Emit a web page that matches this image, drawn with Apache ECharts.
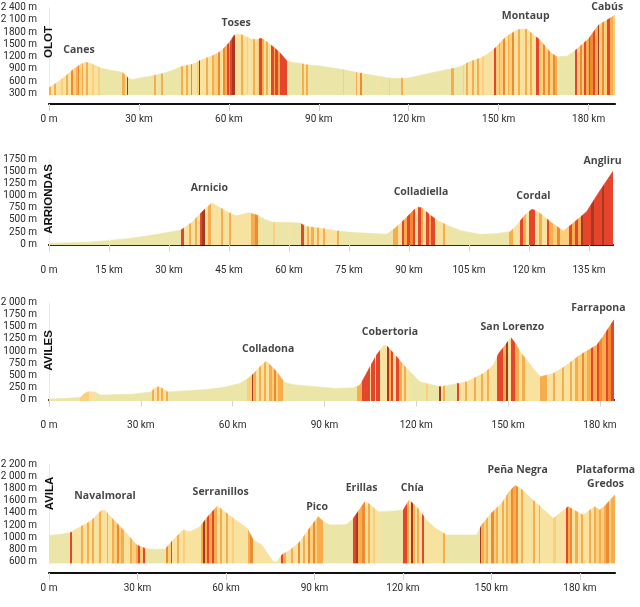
<!DOCTYPE html>
<html><head><meta charset="utf-8">
<script src="https://cdn.jsdelivr.net/npm/echarts@6.0.0/dist/echarts.min.js"></script>
<style>html,body{margin:0;padding:0;background:#fff}#c{width:640px;height:607px}</style>
</head><body><div id="c"></div>
<script>
// ---------- DATA ----------
const stageNames = ['OLOT', 'ARRIONDAS', 'AVILES', 'AVILA'];
const stageLengths = [188.8, 141, 184.6, 191.9];
const stageYMin = [260, -20, -30, 570];
const stageYMax = [2400, 1750, 2000, 2200];

const olotYTicks = [300, 600, 900, 1200, 1500, 1800, 2100, 2400];
const arriondasYTicks = [0, 250, 500, 750, 1000, 1250, 1500, 1750];
const avilesYTicks = [0, 250, 500, 750, 1000, 1250, 1500, 1750, 2000];
const avilaYTicks = [600, 800, 1000, 1200, 1400, 1600, 1800, 2000, 2200];
const olotXTicks = [0, 30, 60, 90, 120, 150, 180];
const arriondasXTicks = [0, 15, 30, 45, 60, 75, 90, 105, 120, 135];
const avilesXTicks = [0, 30, 60, 90, 120, 150, 180];
const avilaXTicks = [0, 30, 60, 90, 120, 150, 180];

// elevation profiles [km, m]
const olotProfile = [[0,440],[2,530],[4.6,670],[8,880],[10.5,1010],[12.3,1060],[14,1030],[17.5,915],[21,860],[23.7,830],[24.9,790],[26.6,665],[28,640],[31,690],[34.2,725],[38,790],[41,860],[44,950],[47,1000],[48.5,1030],[50.2,1100],[53,1180],[55.1,1240],[57,1320],[58.8,1440],[60.5,1580],[61.7,1720],[62.7,1750],[64.4,1735],[66,1680],[67.4,1630],[69.5,1620],[70.7,1650],[72,1600],[74.8,1443],[77,1300],[79.3,1100],[81,1060],[83.5,1040],[86,1000],[90.5,970],[98.3,880],[105,780],[110,720],[113.8,670],[119.4,668],[125,760],[130,840],[135,913],[138,980],[140.2,1075],[143.8,1160],[146,1250],[148.8,1404],[150.5,1550],[152.5,1690],[156,1850],[157.5,1875],[159.4,1870],[161.5,1740],[163.8,1608],[167.3,1296],[169.4,1198],[172.7,1210],[175,1320],[178.3,1527],[180,1640],[183.3,1975],[186,2090],[188.8,2220]];
const arriondasProfile = [[0,20],[5,30],[10,45],[15,80],[20,120],[23,156],[27,205],[31,265],[33,295],[34.5,380],[35.6,440],[37,560],[38.4,680],[40.7,850],[43,740],[45,650],[46.8,585],[48.5,620],[50,650],[52.3,590],[54,510],[55.9,455],[60,450],[62.7,435],[64.3,365],[68,328],[72,275],[76.3,240],[80,225],[84.4,205],[86.5,330],[89,520],[91.5,730],[92.3,760],[93.2,750],[95,620],[96.9,500],[99.4,396],[103,280],[107.8,205],[112,220],[115.3,260],[117,400],[119,600],[120.7,720],[121.8,690],[123.5,590],[125.3,464],[128.6,273],[131,431],[134.4,669],[137.3,1046],[141,1500]];
const avilesProfile = [[0,10],[5,20],[10.4,45],[11.5,120],[12.7,160],[15,155],[16,120],[17,90],[22,100],[27.3,110],[33.3,155],[34.5,230],[35.7,265],[37,230],[38.8,155],[45,180],[51.4,205],[57,250],[62.3,330],[64.6,420],[66.5,510],[69,680],[71,790],[72.5,700],[74.4,575],[77,350],[80,305],[84.1,280],[88.6,255],[93.8,228],[99.4,240],[101.6,296],[103.4,500],[105,690],[107,917],[109.4,1120],[110.5,1100],[113.1,917],[116,700],[118,571],[121.2,364],[124,320],[127.8,261],[131,300],[136.5,364],[142.1,540],[145.2,710],[146.9,950],[149,1120],[150.9,1280],[152.5,1150],[154,980],[156.1,814],[158.5,620],[160.5,470],[164.8,538],[168,660],[173.5,917],[177,1050],[179,1124],[181,1300],[184.6,1650]];
const avilaProfile = [[0,1030],[4,1050],[7.5,1080],[8.2,1110],[11.6,1200],[14,1260],[17.9,1450],[19,1440],[22,1280],[25.8,1093],[29.7,874],[32.5,820],[35,805],[39.3,805],[42,950],[45.5,1120],[47.8,1090],[51.2,1175],[54,1350],[57.1,1515],[62.5,1313],[67.2,1149],[69.3,956],[72.2,874],[76,600],[77.2,595],[78.9,710],[82,800],[85.1,928],[88,1130],[91.3,1340],[93,1260],[95.3,1203],[100.9,1210],[103.2,1313],[107.1,1586],[108.5,1550],[111.6,1421],[116,1430],[120.1,1449],[122.1,1614],[125,1480],[128,1285],[131,1150],[134.8,1039],[145,1039],[146.7,1203],[150,1400],[153.5,1559],[156,1750],[158,1850],[160,1800],[165.3,1559],[171,1313],[176,1503],[177.5,1460],[181.1,1367],[185,1503],[186.7,1449],[188.5,1520],[191.9,1700]];

// gradient stripes [fromKm, toKm, level 0..6]
const olotStripes = [[0,0.8,3],[0.8,1.6,1],[1.6,2.4,3],[2.4,4,1],[4,4.6,2],[4.6,5.6,1],[5.6,6.4,3],[6.4,7.4,1],[7.4,7.9,4],[7.9,9,2],[9,9.6,3],[9.6,10.1,4],[10.1,11,2],[11,11.5,3],[11.5,12.5,1],[12.5,13.1,3],[13.1,14.5,1],[14.5,15,2],[15,16.5,1],[16.5,17,2],[24.5,25.2,3],[25.2,26,1],[26,26.5,6],[35,35.6,3],[37.3,37.9,3],[44,44.6,3],[44.6,45.8,1],[45.8,46.3,3],[46.3,47.2,1],[47.2,47.8,4],[47.8,49.5,1],[49.5,50,2],[50,50.5,6],[50.5,52.5,1],[52.5,53.2,3],[53.2,54.5,1],[54.5,55.1,3],[55.1,56.3,2],[56.3,56.9,4],[56.9,58,1],[58,58.6,4],[58.6,59.3,3],[59.3,60,5],[60,60.5,3],[60.5,61.2,5],[61.2,62,6],[62,64,1],[64,64.6,3],[64.6,66,1],[66,66.5,2],[66.5,68,1],[68,68.6,3],[68.6,69.5,1],[69.5,70.2,2],[70.2,70.9,5],[70.9,71.6,3],[71.6,72.5,1],[72.5,73.2,3],[73.2,74,1],[74,75,5],[75,75.5,3],[75.5,76.5,5],[76.5,77,3],[77,79.5,5],[84.5,85,3],[85,85.8,1],[85.8,86.3,3],[98,98.5,2],[102.3,102.9,3],[103.8,104.4,4],[104.4,105,1],[109.4,110,1],[113.3,113.9,2],[117.5,118.1,3],[118.1,118.8,1],[134,135,3],[138,138.5,2],[139,139.6,3],[139.6,141,1],[141,141.6,3],[141.6,142.8,1],[142.8,143.4,3],[143.4,144.5,1],[144.5,145,2],[145,148.3,1],[148.3,149,5],[149,150,2],[150,150.6,3],[150.6,151.5,2],[151.5,152.2,4],[152.2,153,1],[153,153.6,3],[153.6,154.5,2],[154.5,155.2,4],[155.2,156.3,1],[156.3,157,3],[157,158.8,1],[158.8,159.5,3],[159.5,160.5,1],[160.5,161.2,3],[161.2,162.5,1],[162.5,163.3,5],[163.3,164.8,2],[164.8,165.5,4],[165.5,166.3,2],[166.3,167,4],[167,168,2],[168,168.8,4],[168.8,169.5,3],[172,172.6,1],[175.3,176,5],[176,177,2],[177,177.7,4],[177.7,178.5,2],[178.5,179.2,5],[179.2,180,3],[180,180.6,5],[180.6,181.5,4],[181.5,182.2,5],[182.2,183,3],[183,183.6,6],[183.6,184.5,2],[184.5,185.2,4],[185.2,186.2,2],[186.2,187,5],[187,188.2,3],[188.2,188.8,2]];
const arriondasStripes = [[33,33.7,5],[33.7,35,1],[35,35.6,3],[35.6,36.5,1],[36.5,37,3],[37,37.7,1],[37.7,38.3,5],[38.3,39,6],[39,39.8,1],[39.8,40.4,3],[40.4,43,1],[43,43.6,3],[43.6,45,1],[45,45.6,3],[45.6,50.5,1],[50.5,51.6,3],[51.6,52.3,4],[52.3,53,1],[56,56.5,2],[60,60.5,1],[63,63.7,5],[63.7,64.5,1],[64.5,65,3],[65,65.6,1],[65.6,66.2,3],[66.2,67,1],[67,67.5,3],[67.5,68.5,1],[68.5,69,3],[69,72,1],[72,72.5,3],[86,87.3,3],[87.3,88.2,1],[88.2,88.8,5],[88.8,89.5,3],[89.5,90.2,5],[90.2,91,4],[91,91.5,5],[91.5,92.3,1],[92.3,93,5],[93,93.6,3],[93.6,94.3,1],[94.3,95,5],[95,95.6,3],[95.6,96.5,5],[96.5,98.5,1],[98.5,99.1,3],[99.1,100,1],[115,116.1,3],[116.1,117.8,1],[117.8,118.5,5],[118.5,119.3,3],[119.3,120,1],[120,121.4,5],[121.4,122.6,1],[122.6,123.3,3],[123.3,124.4,1],[124.4,125.1,5],[125.1,126,3],[126,127,2],[127,127.8,4],[127.8,130,2],[130,130.8,5],[130.8,131.5,3],[131.5,132.3,5],[132.3,133,3],[133,133.6,6],[133.6,135.5,5],[135.5,136.3,6],[136.3,138.2,5],[138.2,138.8,6],[138.8,141,5]];
const avilesStripes = [[10.2,13,2],[13,15.5,1],[33.8,34.4,3],[34.4,35.2,1],[35.2,35.8,3],[35.8,36.6,1],[36.6,37.2,3],[37.2,38.3,1],[38.3,38.9,3],[64.6,66.2,2],[66.2,66.8,6],[66.8,67.6,3],[67.6,68.6,1],[68.6,69.3,3],[69.3,70.3,1],[70.3,71,3],[71,72,1],[72,72.7,3],[72.7,73.4,2],[73.4,74.1,4],[74.1,74.8,2],[74.8,76.5,3],[100.6,102.2,3],[102.2,104.8,5],[104.8,105.3,1],[105.3,106.4,5],[106.4,106.9,1],[106.9,108.2,5],[108.2,110.4,1],[110.4,111,6],[111,111.7,3],[111.7,112.5,5],[112.5,113.5,1],[113.5,114.3,5],[114.3,115.3,3],[115.3,116,1],[116,116.8,3],[116.8,118,1],[123.2,123.9,2],[127.5,128.1,6],[128.1,128.8,1],[128.8,129.5,3],[133.4,134,5],[134,136,1],[136,136.6,3],[136.6,139,1],[139,139.6,3],[139.6,141.3,1],[141.3,141.9,3],[141.9,143,1],[143,143.6,3],[143.6,146.3,1],[146.3,148.4,5],[148.4,149.3,3],[149.3,150,6],[150,151,1],[151,152.3,5],[152.3,153.5,3],[153.5,154.6,1],[154.6,155.4,3],[155.4,160.5,1],[160.5,162.7,3],[162.7,164.7,1],[164.7,165.4,3],[165.4,167.6,1],[167.6,168.3,3],[168.3,170.2,1],[170.2,170.9,3],[170.9,172,1],[172,172.7,3],[172.7,174,2],[174,174.7,4],[174.7,175.8,2],[175.8,177,3],[177,177.7,5],[177.7,179,3],[179,179.8,5],[179.8,180.6,4],[180.6,182,3],[182,182.6,5],[182.6,183.5,4],[183.5,184.6,5]];
const avilaStripes = [[7.2,7.8,5],[7.8,11,1],[11,11.6,3],[11.6,12.8,1],[12.8,13.4,3],[13.4,14.5,1],[14.5,15.1,3],[15.1,17,1],[17,17.6,3],[17.6,19.5,1],[19.5,20.1,3],[20.1,21.5,1],[21.5,22.1,3],[22.1,23.2,2],[23.2,23.8,4],[23.8,24.5,2],[24.5,25.3,3],[25.3,27.5,1],[27.5,28.1,3],[28.1,29.5,2],[29.5,30.1,3],[30.1,30.7,5],[30.7,31.8,2],[31.8,32.4,5],[32.4,33,2],[39.8,40.5,4],[40.5,41.2,2],[41.2,41.8,5],[41.8,43.5,1],[43.5,44.1,3],[44.1,45.5,1],[45.5,46,2],[46,51.5,1],[51.5,52.3,3],[52.3,53,6],[53,53.7,3],[53.7,54.4,5],[54.4,55.2,3],[55.2,55.9,5],[55.9,57,3],[57,58,1],[58,58.7,3],[58.7,60,1],[60,60.7,3],[60.7,62,1],[62,62.7,2],[62.7,67.5,1],[67.5,68.2,3],[68.2,69,4],[69,76.5,1],[78.5,79.5,5],[79.5,80.5,3],[80.5,82,1],[82,82.7,3],[82.7,84.3,1],[84.3,85,4],[85,86,1],[86,86.7,3],[86.7,87.8,1],[87.8,88.5,4],[88.5,89.5,2],[89.5,90.2,4],[90.2,91,2],[91,93,3],[103,104.2,5],[104.2,104.8,6],[104.8,106,3],[106,107,4],[107,108,1],[108,108.7,3],[108.7,110,1],[110,110.6,2],[110.6,111.8,1],[120,121.3,5],[121.3,122,3],[122,122.6,1],[122.6,123.3,6],[123.3,124,3],[124,124.6,1],[124.6,125.3,3],[125.3,126.5,1],[126.5,127.2,5],[127.2,133.5,1],[133.5,134.3,3],[146,146.6,6],[146.6,147.5,3],[147.5,148.3,2],[148.3,149,3],[149,150,1],[150,150.8,4],[150.8,151.5,2],[151.5,152.3,3],[152.3,153.5,1],[153.5,154.2,3],[154.2,155,1],[155,155.7,3],[155.7,156.5,2],[156.5,157.3,4],[157.3,158.2,3],[158.2,159,4],[159,160,1],[160,160.7,3],[160.7,164,1],[164,164.7,3],[164.7,166,1],[166,166.6,3],[166.6,171,1],[171,172,2],[172,175.2,1],[175.2,175.9,5],[175.9,176.6,3],[176.6,177.3,4],[177.3,178.5,1],[178.5,179.2,3],[179.2,180.5,1],[180.5,181.2,3],[181.2,183,1],[183,183.7,3],[183.7,184.7,1],[184.7,185.4,3],[185.4,186.5,2],[186.5,187.2,3],[187.2,188.2,2],[188.2,189,3],[189,190,4],[190,190.6,2],[190.6,191.9,3]];

// peak labels: name, km, label elevation (m)
const olotPeaks = [['Canes',10,1363],['Toses',62.4,2032],['Montaup',159,2197],['Cabús',186.2,2425]];
const arriondasPeaks = [['Arnicio',40.1,1149],['Colladiella',93,1079],['Cordal',121.1,997],['Angliru',138.4,1715]];
const avilesPeaks = [['Colladona',71.6,1049],['Cobertoria',111.4,1388],['San Lorenzo',151.4,1504],['Farrapona',179.5,1884]];
const avilaPeaks = [['Navalmoral',19,1679],['Serranillos',58.2,1740],['Pico',90.9,1503],['Erillas',106,1815],['Chía',123.2,1806],['Peña Negra',158.9,2106],['Plataforma\nGredos',188.7,1988]];

// ---------- STYLE / LAYOUT ----------
const LEVEL_COLORS = ['#ebe6a7', '#f7e39f', '#fbcf7c', '#f7ac4e', '#ef8932', '#e7452b', '#a63a1e'];
const layout = [
  {top: 7.7, height: 87.3, width: 566, barOffset: 9, titleX: 49, titleY: 42},
  {top: 159, height: 86.3, width: 564, barOffset: 10, titleX: 48.5, titleY: 199},
  {top: 302.7, height: 98.2, width: 565, barOffset: 10, titleX: 49, titleY: 350.5},
  {top: 464.3, height: 99.2, width: 566, barOffset: 9.5, titleX: 49.5, titleY: 493.5}
];
const profiles = [olotProfile, arriondasProfile, avilesProfile, avilaProfile];
const stripes = [olotStripes, arriondasStripes, avilesStripes, avilaStripes];
const peaks = [olotPeaks, arriondasPeaks, avilesPeaks, avilaPeaks];
const yTicks = [olotYTicks, arriondasYTicks, avilesYTicks, avilaYTicks];
const xTicks = [olotXTicks, arriondasXTicks, avilesXTicks, avilaXTicks];

function fmtM(v) {
  if (v >= 2000) return Math.floor(v / 1000) + ' ' + String(v % 1000).padStart(3, '0') + ' m';
  return v + ' m';
}
function fmtKm(v) { return v === 0 ? '0 m' : v + ' km'; }

const chart = echarts.init(document.getElementById('c'), null, {renderer: 'canvas'});
const grids = [], xAxes = [], yAxes = [], series = [], vms = [], graphics = [];
layout.forEach((L, i) => {
  grids.push({left: 49, top: L.top, width: L.width, height: L.height, containLabel: false, outerBoundsMode: 'none'});
  xAxes.push({
    type: 'value', gridIndex: i, min: 0, max: stageLengths[i], offset: L.barOffset,
    splitLine: {show: false},
    axisLine: {show: true, lineStyle: {color: '#111', width: 2.2}},
    axisTick: {show: true, length: 7, customValues: xTicks[i], lineStyle: {color: '#d4d4d4', width: 1}},
    axisLabel: {customValues: xTicks[i], formatter: fmtKm, margin: 10, fontFamily: 'Roboto', fontSize: 10, color: '#2a2a2a'}
  });
  yAxes.push({
    type: 'value', gridIndex: i, min: stageYMin[i], max: stageYMax[i],
    splitLine: {show: false},
    axisLine: {show: true, lineStyle: {color: '#ebebeb', width: 1}},
    axisTick: {show: false, customValues: yTicks[i]},
    axisLabel: {customValues: yTicks[i], formatter: fmtM, margin: 12, fontFamily: 'Roboto', fontSize: 10, color: '#2a2a2a'}
  });
  series.push({
    type: 'line', xAxisIndex: i, yAxisIndex: i, data: profiles[i], symbol: 'none', smooth: false,
    lineStyle: {width: 0.6}, areaStyle: {opacity: 1, origin: 'start'}, silent: true, animation: false
  });
  vms.push({
    type: 'piecewise', show: false, dimension: 0, seriesIndex: i,
    pieces: stripes[i].map(s => ({gte: s[0], lt: s[1], color: LEVEL_COLORS[s[2]]})),
    outOfRange: {color: LEVEL_COLORS[0]}
  });
  graphics.push({
    type: 'text', x: L.titleX, y: L.titleY, rotation: Math.PI / 2, silent: true, z: 100, zlevel: 0,
    style: {text: stageNames[i], fill: '#111', font: 'bold 11.5px "Liberation Sans", Arial, sans-serif',
            align: 'center', verticalAlign: 'middle', textAlign: 'center', textVerticalAlign: 'middle'}
  });
});
layout.forEach((L, i) => {
  series.push({
    type: 'scatter', xAxisIndex: i, yAxisIndex: i, clip: false, silent: true, animation: false,
    symbolSize: 0, itemStyle: {color: 'rgba(0,0,0,0)'},
    data: peaks[i].map(p => ({name: p[0], value: [p[1], p[2]]})),
    label: {show: true, position: 'inside', formatter: p => p.name, fontFamily: '"Open Sans"', fontWeight: 'bold',
            fontSize: 10.5, color: '#151515', lineHeight: 14, align: 'center'}
  });
});

chart.setOption({
  animation: false,
  backgroundColor: '#fff',
  grid: grids, xAxis: xAxes, yAxis: yAxes, series: series, visualMap: vms, graphic: graphics
});
</script>
</body></html>
